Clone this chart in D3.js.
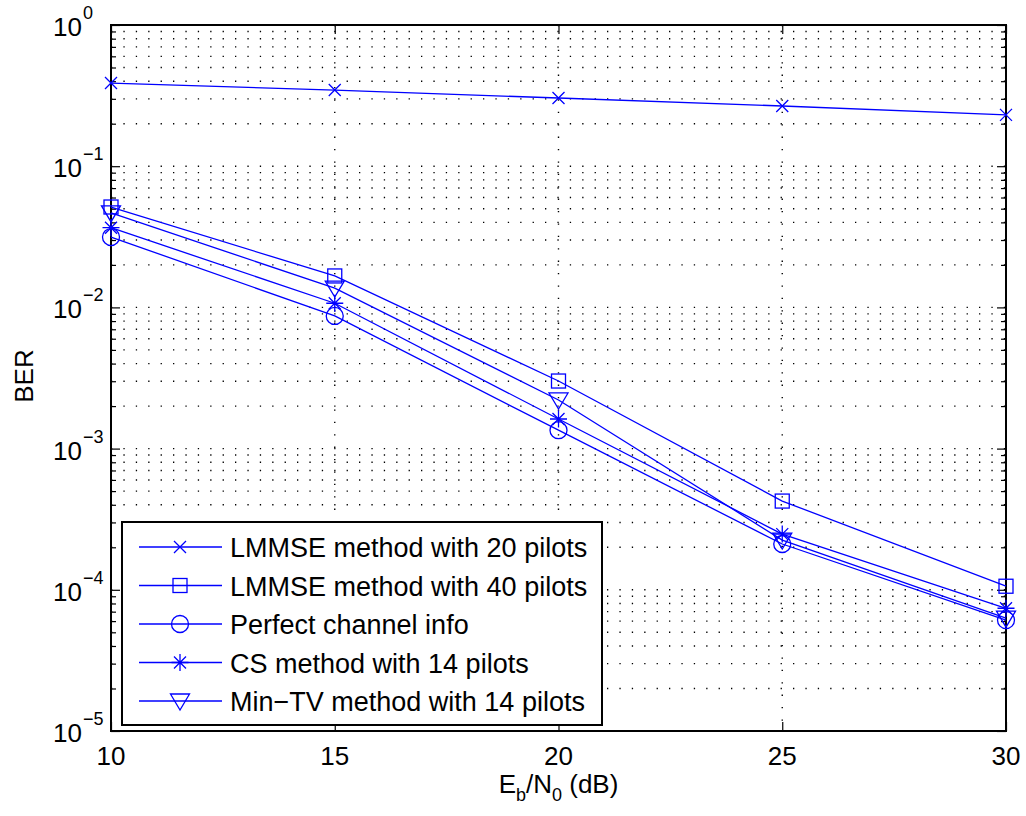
<!DOCTYPE html>
<html>
<head>
<meta charset="utf-8">
<script src="https://cdn.jsdelivr.net/npm/d3@7"></script>
<style>
  body { margin: 0; background: #fff; }
  svg { font-family: "Liberation Sans", Arial, Helvetica, sans-serif; }
</style>
</head>
<body>
<div id="chart"></div>
<script>
// Eb/N0 points (dB)
var snr = [10, 15, 20, 25, 30];

// BER per method
var lmmse20 = [0.388, 0.346, 0.304, 0.267, 0.231];
var lmmse40 = [0.0514, 0.0167, 0.00301, 0.000425, 0.000106];
var perfect = [0.0315, 0.0087, 0.00135, 0.000211, 0.000061];
var cs14 = [0.0367, 0.0107, 0.00162, 0.000248, 0.000074];
var mintv14 = [0.0467, 0.0137, 0.00221, 0.000225, 0.000063];

var seriesNames = [
    "LMMSE method with 20 pilots",
    "LMMSE method with 40 pilots",
    "Perfect channel info",
    "CS method with 14 pilots",
    "Min\u2212TV method with 14 pilots"
];
var seriesMarkers = ["x", "square", "circle", "star", "triangle"];
var seriesValues = [lmmse20, lmmse40, perfect, cs14, mintv14];

var xTicks = [10, 15, 20, 25, 30];
var yExponents = [0, -1, -2, -3, -4, -5];

var margin = {top: 25, right: 20, bottom: 85, left: 111},
    width = 1026 - margin.left - margin.right,
    height = 816 - margin.top - margin.bottom;

var blue = "#0000ff";

var svg = d3.select("#chart").append("svg")
    .attr("width", 1026)
    .attr("height", 816);

var g = svg.append("g")
    .attr("transform", "translate(" + margin.left + "," + margin.top + ")");

var x = d3.scaleLinear().domain([10, 30]).range([0, width]);
var y = d3.scaleLog().domain([1e-5, 1]).range([height, 0]);

// minor log positions
var minorTicks = [];
for (var e = -5; e < 0; e++) {
    for (var m = 2; m <= 9; m++) minorTicks.push(m * Math.pow(10, e));
}
var majorY = yExponents.map(function(p) { return Math.pow(10, p); });

// grid lines (dotted)
var grid = g.append("g").attr("class", "grid")
    .attr("stroke", "#000").attr("stroke-width", 1.4)
    .attr("stroke-dasharray", "1.3,11.1");

grid.selectAll(".hg").data(majorY.concat(minorTicks).filter(function(v) { return v > 1e-5 && v < 1; }))
    .enter().append("line")
    .attr("x1", 0).attr("x2", width)
    .attr("y1", function(d) { return y(d); })
    .attr("y2", function(d) { return y(d); });

grid.selectAll(".vg").data(xTicks.slice(1, -1))
    .enter().append("line")
    .attr("y1", 0).attr("y2", height)
    .attr("x1", function(d) { return x(d); })
    .attr("x2", function(d) { return x(d); });

// axes with inward ticks
function styleAxis(sel) {
    sel.select(".domain").remove();
    sel.selectAll(".tick line").attr("stroke", "#000").attr("stroke-width", 1.2);
    sel.selectAll(".tick text").remove();
}

g.append("g").call(d3.axisLeft(y).tickValues(majorY).tickSizeInner(-9).tickSizeOuter(0)).call(styleAxis);
g.append("g").call(d3.axisLeft(y).tickValues(minorTicks).tickSizeInner(-5).tickSizeOuter(0)).call(styleAxis);
g.append("g").attr("transform", "translate(" + width + ",0)")
    .call(d3.axisRight(y).tickValues(majorY).tickSizeInner(-9).tickSizeOuter(0)).call(styleAxis);
g.append("g").attr("transform", "translate(" + width + ",0)")
    .call(d3.axisRight(y).tickValues(minorTicks).tickSizeInner(-5).tickSizeOuter(0)).call(styleAxis);
g.append("g").attr("transform", "translate(0," + height + ")")
    .call(d3.axisBottom(x).tickValues(xTicks).tickSizeInner(-9).tickSizeOuter(0)).call(styleAxis);
g.append("g")
    .call(d3.axisTop(x).tickValues(xTicks).tickSizeInner(-9).tickSizeOuter(0)).call(styleAxis);

// box
g.append("rect")
    .attr("x", 0).attr("y", 0).attr("width", width).attr("height", height)
    .attr("fill", "none").attr("stroke", "#000").attr("stroke-width", 2);

// x tick labels
g.selectAll(".xl").data(xTicks).enter().append("text")
    .attr("x", function(d) { return x(d); })
    .attr("y", height + 34)
    .attr("text-anchor", "middle")
    .attr("font-size", 26)
    .text(function(d) { return d; });

// y tick labels 10^n
g.selectAll(".yl").data(yExponents).enter().append("text")
    .attr("x", -29)
    .attr("y", function(d) { return y(Math.pow(10, d)) + 11; })
    .attr("text-anchor", "end")
    .attr("font-size", 26)
    .text("10");
g.selectAll(".ye").data(yExponents).enter().append("text")
    .attr("x", -28)
    .attr("y", function(d) { return y(Math.pow(10, d)) - 6; })
    .attr("font-size", 18)
    .text(function(d) { return d === 0 ? "0" : "\u2212" + (-d); });

// axis titles
var xt = svg.append("text")
    .attr("x", margin.left + width / 2)
    .attr("y", 793)
    .attr("text-anchor", "middle")
    .attr("font-size", 26);
xt.append("tspan").text("E");
xt.append("tspan").attr("font-size", 18).attr("dy", 8).text("b");
xt.append("tspan").attr("dy", -8).text("/N");
xt.append("tspan").attr("font-size", 18).attr("dy", 8).text("0");
xt.append("tspan").attr("dy", -8).text(" (dB)");

svg.append("text")
    .attr("transform", "translate(33," + (margin.top + height / 2 - 2) + ") rotate(-90)")
    .attr("text-anchor", "middle")
    .attr("font-size", 26)
    .text("BER");

// markers
function drawMarker(sel, type) {
    sel.each(function() {
        var s = d3.select(this);
        if (type === "x") {
            s.append("path").attr("d", "M-6,-6L6,6M-6,6L6,-6");
        } else if (type === "square") {
            s.append("rect").attr("x", -7).attr("y", -7).attr("width", 14).attr("height", 14);
        } else if (type === "circle") {
            s.append("circle").attr("r", 8.5);
        } else if (type === "star") {
            s.append("path").attr("d", "M-8.5,0L8.5,0M0,-8.5L0,8.5M-6,-6L6,6M-6,6L6,-6");
        } else if (type === "triangle") {
            s.append("path").attr("d", "M-9.5,-7L9.5,-7L0,9Z");
        }
    });
}

var line = d3.line()
    .x(function(d, i) { return x(snr[i]); })
    .y(function(d) { return y(d); });

seriesValues.forEach(function(vals, k) {
    var sg = g.append("g")
        .attr("stroke", blue).attr("fill", "none").attr("stroke-width", 1.3);
    sg.append("path").attr("d", line(vals));
    sg.selectAll(".mk").data(vals).enter().append("g")
        .attr("transform", function(d, i) { return "translate(" + x(snr[i]) + "," + y(d) + ")"; })
        .call(drawMarker, seriesMarkers[k]);
});

// legend
var lg = g.append("g").attr("transform", "translate(11,497)");
lg.append("rect")
    .attr("width", 480).attr("height", 203)
    .attr("fill", "#fff").attr("stroke", "#000").attr("stroke-width", 2);

seriesNames.forEach(function(name, k) {
    var ry = 25 + k * 38.5;
    var row = lg.append("g").attr("transform", "translate(0," + ry + ")");
    var rg = row.append("g").attr("stroke", blue).attr("fill", "none").attr("stroke-width", 1.3);
    rg.append("line").attr("x1", 17).attr("x2", 100).attr("y1", 0).attr("y2", 0);
    rg.append("g").attr("transform", "translate(58,0)")
        .call(drawMarker, seriesMarkers[k]);
    row.append("text")
        .attr("x", 108).attr("y", 10)
        .attr("font-size", 27)
        .text(name);
});
</script>
</body>
</html>
